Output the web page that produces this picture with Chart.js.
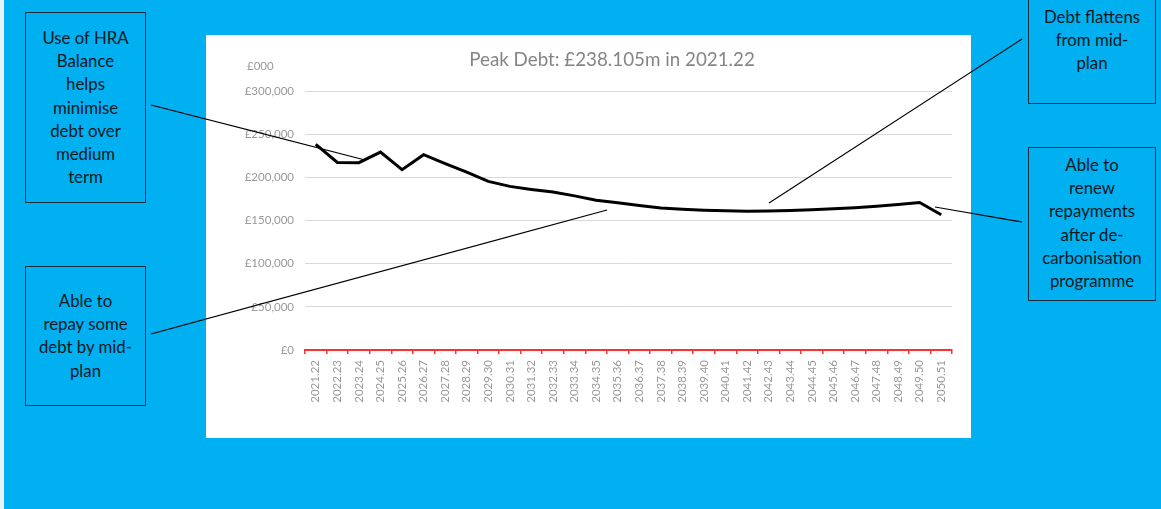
<!DOCTYPE html>
<html>
<head>
<meta charset="utf-8">
<script src="https://cdn.jsdelivr.net/npm/chart.js@4"></script>
<style>
  html, body { margin: 0; padding: 0; }
  body { width: 1161px; height: 509px; background: #00B0F0; position: relative; overflow: hidden; font-family: Lato, "Open Sans", sans-serif; }
  #leftstrip { position: absolute; left: 0; top: 0; width: 4px; height: 509px; background: #e8f4fa; }
  #card { position: absolute; left: 206px; top: 35px; width: 765px; height: 403px; background: #ffffff; }
  #card canvas { position: absolute; left: 0; top: 0; }
  .note { position: absolute; box-sizing: border-box; border: 1.3px solid #1d2d3c; background: #00B0F0; color: #0e1822; text-align: center; font-size: 16.8px; line-height: 23.2px; }
  #overlay { position: absolute; left: 0; top: 0; pointer-events: none; }
</style>
</head>
<body>
<div id="leftstrip"></div>
<div id="card"><canvas id="c" width="765" height="403"></canvas></div>

<div class="note" style="left:25px; top:12px; width:121px; height:191px; padding-top:13px;">Use of HRA<br>Balance<br>helps<br>minimise<br>debt over<br>medium<br>term</div>
<div class="note" style="left:25px; top:266px; width:121px; height:140px; padding-top:22px;">Able to<br>repay some<br>debt by mid-<br>plan</div>
<div class="note" style="left:1028px; top:-5px; width:128px; height:109px; padding-top:9px;">Debt flattens<br>from mid-<br>plan</div>
<div class="note" style="left:1028px; top:147px; width:128px; height:154px; padding-top:5px;">Able to<br>renew<br>repayments<br>after de-<br>carbonisation<br>programme</div>

<svg id="overlay" width="1161" height="509">
  <line x1="151" y1="105" x2="365" y2="160" stroke="#000" stroke-width="1.2"/>
  <line x1="151" y1="334" x2="607" y2="210" stroke="#000" stroke-width="1.2"/>
  <line x1="1022" y1="39" x2="769" y2="203" stroke="#000" stroke-width="1.2"/>
  <line x1="1022" y1="222" x2="935" y2="207" stroke="#000" stroke-width="1.2"/>
</svg>

<script>
const categories = ["2021.22","2022.23","2023.24","2024.25","2025.26","2026.27","2027.28","2028.29","2029.30","2030.31",
  "2031.32","2032.33","2033.34","2034.35","2035.36","2036.37","2037.38","2038.39","2039.40","2040.41",
  "2041.42","2042.43","2043.44","2044.45","2045.46","2046.47","2047.48","2048.49","2049.50","2050.51"];
const debtValues = [238105, 217300, 217000, 229300, 208800, 226200, 216000, 206000, 195300, 189500,
  186000, 183000, 178500, 173500, 170500, 167400, 164400, 163000, 162000, 161300,
  160700, 160900, 161500, 162400, 163500, 164700, 166400, 168400, 170900, 156600];
const yTickValues = [0, 50000, 100000, 150000, 200000, 250000, 300000];
const chartTitle = "Peak Debt: £238.105m in 2021.22";
const unitLabel = "£000";

const FONT = "Lato, 'Open Sans', sans-serif";

const textPlugin = {
  id: 'textPlugin',
  afterDraw(chart) {
    const ctx = chart.ctx;
    ctx.save();
    ctx.fillStyle = '#858585';
    ctx.font = "18.8px " + FONT;
    ctx.textAlign = 'center';
    ctx.textBaseline = 'middle';
    ctx.fillText(chartTitle, 406, 25);
    ctx.fillStyle = '#999999';
    ctx.font = "11.5px " + FONT;
    ctx.textAlign = 'left';
    ctx.fillText(unitLabel, 41, 31);
    ctx.restore();
  }
};

new Chart(document.getElementById('c'), {
  type: 'line',
  data: {
    labels: categories,
    datasets: [{
      data: debtValues,
      borderColor: '#000000',
      borderWidth: 3,
      pointRadius: 0,
      tension: 0,
      fill: false
    }]
  },
  options: {
    responsive: false,
    animation: false,
    layout: { padding: { left: 0, right: 19, top: 56, bottom: 0 } },
    plugins: { legend: { display: false }, title: { display: false }, tooltip: { enabled: false } },
    scales: {
      x: {
        type: 'category',
        offset: true,
        grid: { display: true, drawOnChartArea: false, drawTicks: true, tickLength: 4, color: '#ff3030', offset: true, lineWidth: 1.5 },
        border: { display: true, color: '#ff3030', width: 2 },
        ticks: { color: '#999999', font: { family: FONT, size: 11.5 }, minRotation: 90, maxRotation: 90, autoSkip: false, padding: 6 },
        afterFit(scale) { scale.height = 88; }
      },
      y: {
        min: 0, max: 300000,
        afterBuildTicks(scale) { scale.ticks = yTickValues.map(v => ({ value: v })); },
        grid: { color: '#d9d9d9', lineWidth: 1, drawTicks: false },
        border: { display: false },
        ticks: {
          color: '#999999', font: { family: FONT, size: 11.5 }, padding: 11,
          callback: v => '£' + Number(v).toLocaleString('en-GB')
        },
        afterFit(scale) { scale.width = 99; }
      }
    }
  },
  plugins: [textPlugin]
});
</script>
</body>
</html>
